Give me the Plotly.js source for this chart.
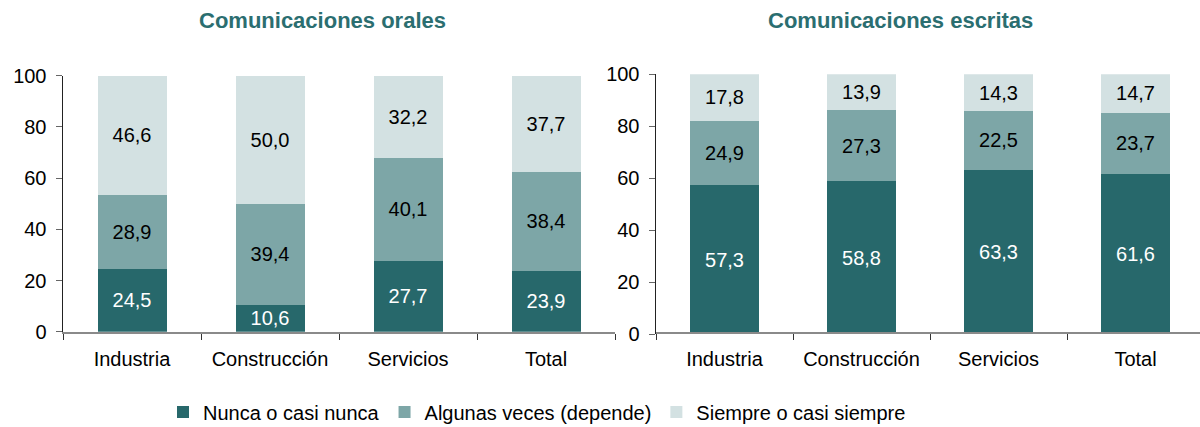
<!DOCTYPE html>
<html>
<head>
<meta charset="utf-8">
<script src="https://cdn.plot.ly/plotly-3.0.1.min.js"></script>
<style>
html,body{margin:0;padding:0;overflow:hidden;background:#fff;}
#chart{width:1204px;height:427px;}
</style>
</head>
<body>
<div id="chart"></div>
<script>
// Data
const categories = ["Industria", "Construcción", "Servicios", "Total"];
const seriesNames = ["Nunca o casi nunca", "Algunas veces (depende)", "Siempre o casi siempre"];
const oralesNunca   = [24.5, 10.6, 27.7, 23.9];
const oralesAlgunas = [28.9, 39.4, 40.1, 38.4];
const oralesSiempre = [46.6, 50.0, 32.2, 37.7];
const escritasNunca   = [57.3, 58.8, 63.3, 61.6];
const escritasAlgunas = [24.9, 27.3, 22.5, 23.7];
const escritasSiempre = [17.8, 13.9, 14.3, 14.7];
const titles = ["Comunicaciones orales", "Comunicaciones escritas"];

const W = 1204, H = 427;
const FONT = "Liberation Sans, Arial, sans-serif";
const colors = ["#27686B", "#7DA6A7", "#D3E1E2"];
const textColors = ["#ffffff", "#000000", "#000000"];

function mk(y, i, xa, ya, showleg) {
  return {
    type: "bar", x: categories, y: y, name: seriesNames[i],
    xaxis: xa, yaxis: ya, width: 0.5,
    marker: {color: colors[i], line: {width: 0}},
    text: y, texttemplate: "%{y:.1f}", textposition: "inside",
    insidetextanchor: "middle", textangle: 0,
    textfont: {family: FONT, size: 20, color: textColors[i]},
    showlegend: showleg, legendgroup: "g" + i, hoverinfo: "skip"
  };
}

const data = [
  mk(oralesNunca, 0, "x", "y", true),
  mk(oralesAlgunas, 1, "x", "y", true),
  mk(oralesSiempre, 2, "x", "y", true),
  mk(escritasNunca, 0, "x2", "y2", false),
  mk(escritasAlgunas, 1, "x2", "y2", false),
  mk(escritasSiempre, 2, "x2", "y2", false)
];

function xax(d) {
  return {
    domain: d, type: "category", tickson: "boundaries",
    ticks: "outside", ticklen: 6, tickwidth: 1, tickcolor: "#333",
    showline: true, linecolor: "#8a8a8a", linewidth: 2,
    showgrid: false, zeroline: false, fixedrange: true,
    tickfont: {family: FONT, size: 20, color: "#000"},
    ticklabelstandoff: 8
  };
}
function yax(d, anchor) {
  return {
    domain: d, range: [0, 100], anchor: anchor, dtick: 20,
    ticks: "outside", ticklen: 6, tickwidth: 1, tickcolor: "#666",
    showline: true, linecolor: "#222", linewidth: 1.5,
    showgrid: false, zeroline: false, fixedrange: true,
    tickfont: {family: FONT, size: 20, color: "#000"},
    ticklabelstandoff: 5
  };
}

const layout = {
  width: W, height: H,
  margin: {l: 0, r: 0, t: 0, b: 0, autoexpand: false},
  paper_bgcolor: "#fff", plot_bgcolor: "#fff",
  barmode: "stack", separators: ",.",
  uniformtext: {mode: "show", minsize: 20},
  font: {family: FONT, size: 20, color: "#000"},
  xaxis: xax([63 / W, 615 / W]),
  yaxis: yax([(H - 331.7) / H, (H - 75.7) / H], "x"),
  xaxis2: xax([656 / W, 1]),
  yaxis2: yax([(H - 334.3) / H, (H - 74.3) / H], "x2"),
  showlegend: true,
  legend: {
    orientation: "h", x: 537 / W, xanchor: "center", y: 15 / H, yanchor: "middle",
    font: {family: FONT, size: 20, color: "#000"}, traceorder: "normal",
    bgcolor: "rgba(0,0,0,0)"
  },
  annotations: [
    {text: "<b>" + titles[0] + "</b>", xref: "paper", yref: "paper", x: 322.5 / W, y: (H - 20) / H,
     xanchor: "center", yanchor: "middle", showarrow: false,
     font: {family: FONT, size: 22, color: "#2B6E70"}},
    {text: "<b>" + titles[1] + "</b>", xref: "paper", yref: "paper", x: 900 / W, y: (H - 20) / H,
     xanchor: "center", yanchor: "middle", showarrow: false,
     font: {family: FONT, size: 22, color: "#2B6E70"}}
  ]
};

Plotly.newPlot("chart", data, layout, {displayModeBar: false, staticPlot: true});
</script>
</body>
</html>
